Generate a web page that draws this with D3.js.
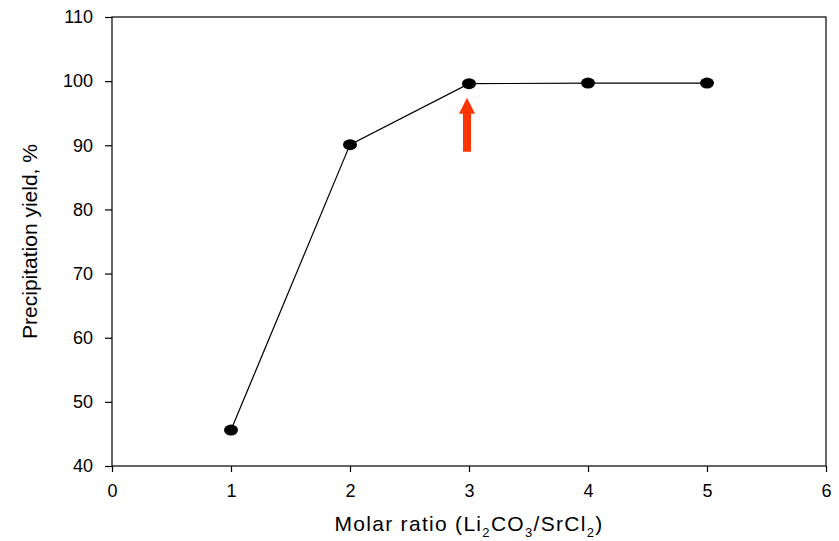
<!DOCTYPE html>
<html>
<head>
<meta charset="utf-8">
<script src="https://cdn.jsdelivr.net/npm/d3@7"></script>
<style>
    body { margin: 0; background: #fff; }
    svg text { font-family: Arial, "Liberation Sans", sans-serif; fill: #000; }
</style>
</head>
<body>
<div id="chart"></div>
<script>
// Chart data
const molarRatio = [1, 2, 3, 4, 5];
const yieldPct = [45.6, 90.1, 99.6, 99.7, 99.7];
const xTicks = [0, 1, 2, 3, 4, 5, 6];
const yTicks = [40, 50, 60, 70, 80, 90, 100, 110];
// red arrow pointing at the optimum ratio
const arrowAt = [3];
const arrowFrom = [89.0];
const arrowTo = [97.4];

const width = 839;
const height = 541;
const margin = { top: 17, right: 13, bottom: 75, left: 112 };
const innerW = width - margin.left - margin.right;
const innerH = height - margin.top - margin.bottom;

const svg = d3.select('#chart')
    .append('svg')
    .attr('width', width)
    .attr('height', height);

const g = svg.append('g')
    .attr('transform', `translate(${margin.left}, ${margin.top})`);

const xScale = d3.scaleLinear().domain([0, 6]).range([0, innerW]);
const yScale = d3.scaleLinear().domain([40, 110]).range([innerH, 0]);

// Frame (top and right lines)
g.append('rect')
    .attr('x', 0)
    .attr('y', 0)
    .attr('width', innerW)
    .attr('height', innerH)
    .attr('fill', 'none')
    .attr('stroke', '#000')
    .attr('stroke-width', 1.2);

// X axis
const xAxis = g.append('g')
    .attr('transform', `translate(0, ${innerH})`)
    .call(d3.axisBottom(xScale).tickValues(xTicks).tickSize(6).tickPadding(12).tickFormat(d3.format('d')));
xAxis.select('.domain').remove();
xAxis.selectAll('.tick line').attr('stroke', '#000').attr('stroke-width', 1.2);
xAxis.selectAll('text').style('font-size', '18px');

// Y axis
const yAxis = g.append('g')
    .call(d3.axisLeft(yScale).tickValues(yTicks).tickSize(7).tickPadding(12).tickFormat(d3.format('d')));
yAxis.select('.domain').remove();
yAxis.selectAll('.tick line').attr('stroke', '#000').attr('stroke-width', 1.2);
yAxis.selectAll('text').style('font-size', '18px');

// Axis titles
const xTitle = svg.append('text')
    .attr('x', margin.left + xScale(3))
    .attr('y', 531)
    .attr('text-anchor', 'middle')
    .style('font-size', '21px')
    .style('letter-spacing', '1.3px');
xTitle.append('tspan').text('Molar ratio (Li');
xTitle.append('tspan').attr('dy', 6).style('font-size', '13px').text('2');
xTitle.append('tspan').attr('dy', -6).text('CO');
xTitle.append('tspan').attr('dy', 6).style('font-size', '13px').text('3');
xTitle.append('tspan').attr('dy', -6).text('/SrCl');
xTitle.append('tspan').attr('dy', 6).style('font-size', '13px').text('2');
xTitle.append('tspan').attr('dy', -6).text(')');

svg.append('text')
    .attr('transform', `translate(37, ${margin.top + innerH / 2}) rotate(-90)`)
    .attr('text-anchor', 'middle')
    .style('font-size', '21px')
    .text('Precipitation yield, %');

// Data line
const points = molarRatio.map((x, i) => ({ x: x, y: yieldPct[i] }));
const line = d3.line()
    .x(d => xScale(d.x))
    .y(d => yScale(d.y));

g.append('path')
    .datum(points)
    .attr('fill', 'none')
    .attr('stroke', '#000')
    .attr('stroke-width', 1.2)
    .attr('d', line);

g.selectAll('.dot')
    .data(points)
    .enter()
    .append('ellipse')
    .attr('class', 'dot')
    .attr('cx', d => xScale(d.x))
    .attr('cy', d => yScale(d.y))
    .attr('rx', 7)
    .attr('ry', 5.5)
    .attr('fill', '#000');

// Arrow
arrowAt.forEach((ax, i) => {
    const cx = xScale(ax) - 2;
    const yBottom = yScale(arrowFrom[i]);
    const yTip = yScale(arrowTo[i]);
    const headH = 16;
    const shaftW = 4;
    const headW = 8;
    const path = d3.path();
    path.moveTo(cx - shaftW, yBottom);
    path.lineTo(cx - shaftW, yTip + headH);
    path.lineTo(cx - headW, yTip + headH);
    path.lineTo(cx, yTip);
    path.lineTo(cx + headW, yTip + headH);
    path.lineTo(cx + shaftW, yTip + headH);
    path.lineTo(cx + shaftW, yBottom);
    path.closePath();
    g.append('path')
        .attr('d', path.toString())
        .attr('fill', '#ff3300');
});
</script>
</body>
</html>
